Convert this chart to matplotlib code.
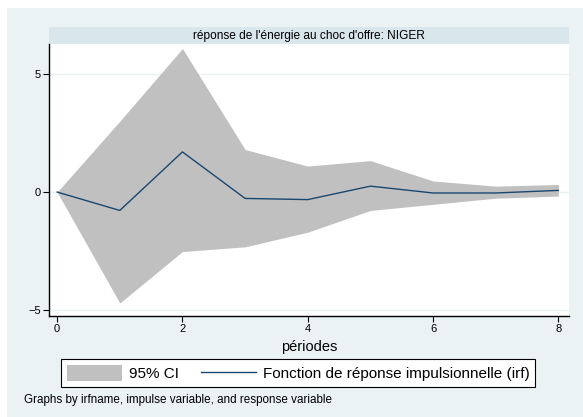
import matplotlib
matplotlib.use("Agg")
import matplotlib.pyplot as plt
from matplotlib.patches import Rectangle, Patch
from matplotlib.lines import Line2D

plt.rcParams['font.family'] = ['Liberation Sans', 'DejaVu Sans']

periods = [0, 1, 2, 3, 4, 5, 6, 7, 8]
irf = [0, -0.78, 1.7, -0.27, -0.32, 0.25, -0.04, -0.04, 0.07]
ci_upper = [0, 3.0, 6.08, 1.8, 1.1, 1.33, 0.47, 0.25, 0.32]
ci_lower = [0, -4.7, -2.52, -2.32, -1.7, -0.78, -0.52, -0.26, -0.17]
xticks = [0, 2, 4, 6, 8]
yticks = [-5, 0, 5]

BG = '#EAF2F3'
STRIP = '#D9E6EC'
W, H = 583, 417
fig = plt.figure(figsize=(W/100, H/100), dpi=100, facecolor='white')

# outer light-blue region (white margin on top and left)
fig.patches.append(Rectangle((7/W, 0), 1, 1-8/H, transform=fig.transFigure,
                             facecolor=BG, edgecolor='none', zorder=-5))

l, r, t, b = 49, 569, 44, 316
ax = fig.add_axes([l/W, 1-b/H, (r-l)/W, (b-t)/H])
ax.set_facecolor('white')

ax.fill_between(periods, ci_lower, ci_upper, color='#C0C0C0', linewidth=0, zorder=2)
ax.plot(periods, irf, color='#1A476F', linewidth=1.0, zorder=3)

for yv in yticks:
    ax.axhline(yv, color='#EAF2F3', linewidth=1.0, zorder=1)

ax.set_xlim(-0.13, 8.17)
ax.set_ylim(-5.25, 6.27)
ax.set_xticks(xticks)
ax.set_yticks(yticks)
for s in ['top', 'right']:
    ax.spines[s].set_visible(False)
for s in ['left', 'bottom']:
    ax.spines[s].set_linewidth(1.0)
    ax.spines[s].set_color('black')
ax.tick_params(direction='out', length=4, width=0.8, labelsize=8, pad=2)
ax.set_xlabel('périodes', fontsize=10.5, labelpad=4)

# title strip
fig.patches.append(Rectangle((l/W, 1-t/H), (r-l)/W, 17/H, transform=fig.transFigure,
                             facecolor=STRIP, edgecolor='none', zorder=-4))
fig.text((l+r)/2/W, 1-35.5/H, "réponse de l'énergie au choc d'offre: NIGER",
         ha='center', va='center', fontsize=8.6)

handles = [Patch(facecolor='#C0C0C0', edgecolor='none'),
           Line2D([0], [0], color='#1A476F', linewidth=1.0)]
labels = ['95% CI', 'Fonction de réponse impulsionnelle (irf)']
leg = fig.legend(handles, labels, ncol=2, loc='center',
                 bbox_to_anchor=((60+536)/2/W, 1-373/H), fontsize=11,
                 frameon=True, fancybox=False, edgecolor='black', framealpha=1,
                 handlelength=3.6, handleheight=1.2, columnspacing=1.45,
                 borderpad=0.4, handletextpad=0.45, borderaxespad=0)
leg.get_frame().set_linewidth(0.8)

fig.text(24/W, 1-400/H, 'Graphs by irfname, impulse variable, and response variable',
         ha='left', va='center', fontsize=8.4)

fig.savefig('out.png', dpi=100, facecolor='white')
